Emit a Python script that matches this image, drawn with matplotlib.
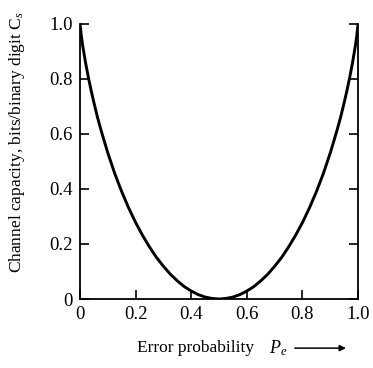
import matplotlib
matplotlib.use("Agg")
import matplotlib.pyplot as plt

plt.rcParams['font.family'] = ['Liberation Serif', 'DejaVu Serif']
plt.rcParams['mathtext.fontset'] = 'custom'
plt.rcParams['mathtext.it'] = 'Liberation Serif:italic'
plt.rcParams['mathtext.rm'] = 'Liberation Serif'

# error probability and channel capacity
pe = [0.0, 0.005, 0.01, 0.02, 0.03, 0.04, 0.05, 0.0625, 0.075, 0.0875, 0.1, 0.125, 0.15, 0.175,
      0.2, 0.225, 0.25, 0.275, 0.3, 0.325, 0.35, 0.375, 0.4, 0.425, 0.45, 0.475, 0.5,
      0.525, 0.55, 0.575, 0.6, 0.625, 0.65, 0.675, 0.7, 0.725, 0.75, 0.775, 0.8, 0.825,
      0.85, 0.875, 0.9, 0.9125, 0.925, 0.9375, 0.95, 0.96, 0.97, 0.98, 0.99, 0.995, 1.0]
cap = [1.0, 0.955, 0.919, 0.859, 0.806, 0.758, 0.714, 0.662, 0.616, 0.573, 0.531, 0.456, 0.390, 0.331,
       0.278, 0.231, 0.189, 0.151, 0.119, 0.090, 0.066, 0.045, 0.029, 0.016, 0.007, 0.002, 0.0,
       0.002, 0.007, 0.016, 0.029, 0.045, 0.066, 0.090, 0.119, 0.151, 0.189, 0.231, 0.278, 0.331,
       0.390, 0.456, 0.531, 0.573, 0.616, 0.662, 0.714, 0.758, 0.806, 0.859, 0.919, 0.955, 1.0]

xticks = [0, 0.2, 0.4, 0.6, 0.8, 1.0]
xtick_labels = ['0', '0.2', '0.4', '0.6', '0.8', '1.0']
yticks = [0, 0.2, 0.4, 0.6, 0.8, 1.0]
ytick_labels = ['0', '0.2', '0.4', '0.6', '0.8', '1.0']

fig = plt.figure(figsize=(3.73, 3.68), dpi=100)
ax = fig.add_axes([0.2145, 0.1875, 0.7455, 0.7475])

ax.plot(pe, cap, color='black', lw=2.1, solid_joinstyle='round')

ax.set_xlim(0, 1.0)
ax.set_ylim(0, 1.0)
ax.set_xticks(xticks)
ax.set_xticklabels(xtick_labels)
ax.set_yticks(yticks)
ax.set_yticklabels(ytick_labels)
ax.tick_params(direction='in', length=6.5, width=1.2, labelsize=13.5, pad=5,
               right=True, labelright=False)
ax.spines['top'].set_visible(False)
for s in ['left', 'bottom', 'right']:
    ax.spines[s].set_linewidth(1.3)

fig.text(0.046, 0.614, 'Channel capacity, bits/binary digit C$_s$', fontsize=12.5,
         rotation=90, ha='center', va='center')
fig.text(0.525, 0.054, 'Error probability', fontsize=12.5, ha='center', va='center')
fig.text(0.745, 0.054, r'$P_e$', fontsize=13, ha='center', va='center')
ax.annotate('', xy=(0.935, 0.054), xytext=(0.783, 0.054), xycoords='figure fraction',
            arrowprops=dict(arrowstyle='-|>', color='black', lw=1.1, mutation_scale=9))

fig.savefig('out.png', dpi=100)
